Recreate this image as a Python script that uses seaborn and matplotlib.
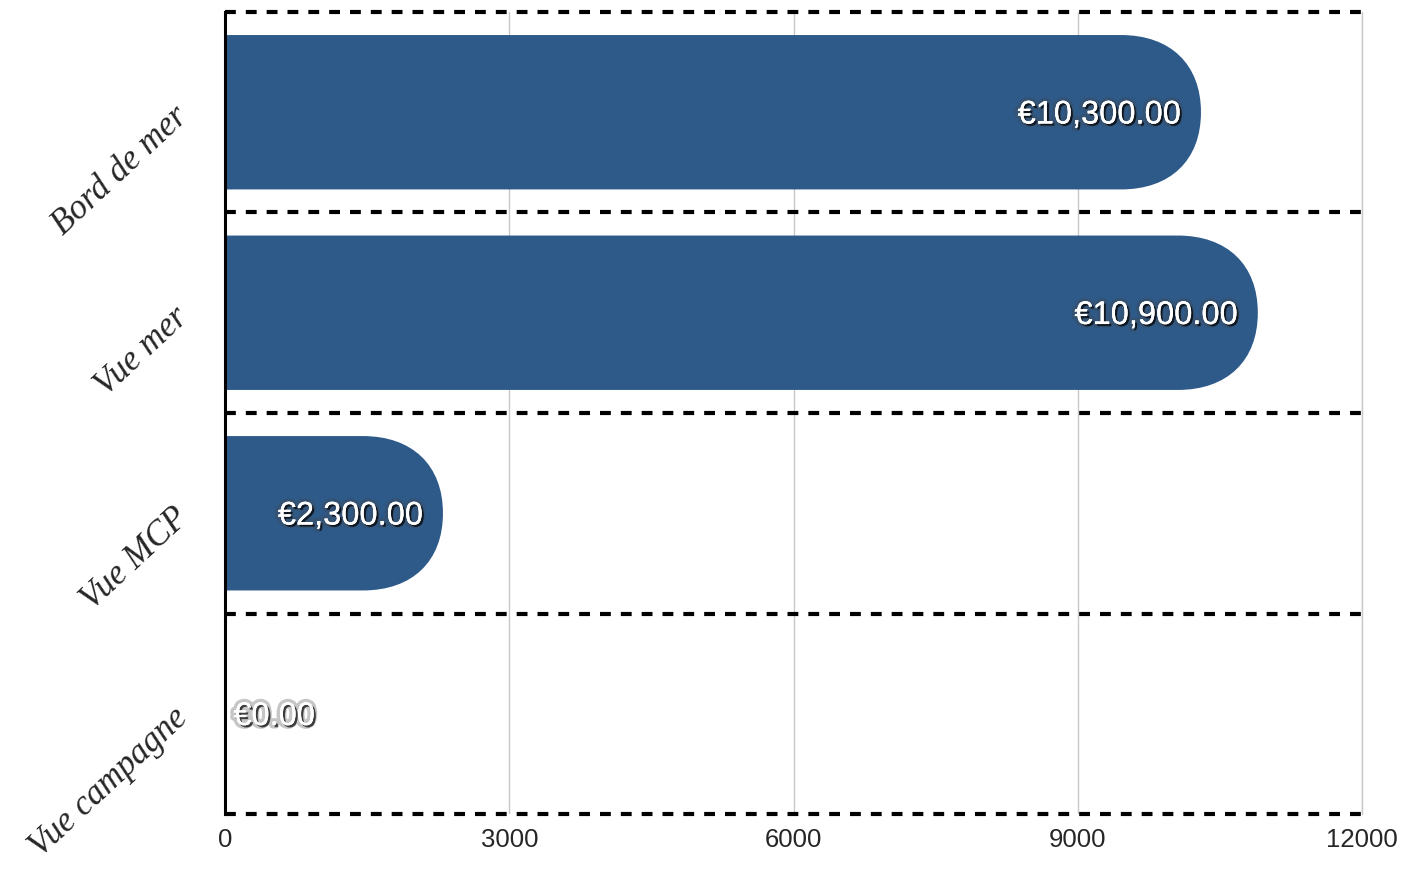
import pandas as pd
import matplotlib.pyplot as plt
import matplotlib.patheffects as pe
from matplotlib.path import Path
from matplotlib.patches import PathPatch
import seaborn as sns

categories = ["Bord de mer", "Vue mer", "Vue MCP", "Vue campagne"]
values = [10300, 10900, 2300, 0]
value_labels = ["€10,300.00", "€10,900.00", "€2,300.00", "€0.00"]
x_ticks = [0, 3000, 6000, 9000, 12000]

df = pd.DataFrame({"categorie": categories, "montant": values})

sns.set_style("white")
plt.rcParams['font.family'] = ['Liberation Sans', 'DejaVu Sans']

fig = plt.figure(figsize=(14.02, 8.74), dpi=100)
ax = fig.add_axes([0.1605, 0.0686, 0.811, 0.9177])

bar_color = "#2e5a8a"
sns.barplot(data=df, x="montant", y="categorie", orient="h", color=bar_color,
            width=0.77, saturation=1, ax=ax, zorder=2)

ax.set_xlim(0, 12000)
ax.set_ylim(3.5, -0.5)

# replace the plain rectangles by bars with a rounded right end
rx = 845
k = 0.62
for p in list(ax.patches):
    x0, y0 = p.get_x(), p.get_y()
    w, h = p.get_width(), p.get_height()
    p.remove()
    if w <= 0:
        continue
    y1 = y0 + h
    yc = y0 + h / 2
    ry = h / 2
    xe = x0 + w
    r = min(rx, w)
    verts = [(x0, y0), (xe - r, y0),
             (xe - r + k * r, y0), (xe, yc - k * ry), (xe, yc),
             (xe, yc + k * ry), (xe - r + k * r, y1), (xe - r, y1),
             (x0, y1), (x0, y0)]
    codes = [Path.MOVETO, Path.LINETO,
             Path.CURVE4, Path.CURVE4, Path.CURVE4,
             Path.CURVE4, Path.CURVE4, Path.CURVE4,
             Path.LINETO, Path.CLOSEPOLY]
    ax.add_patch(PathPatch(Path(verts, codes), facecolor=bar_color,
                           edgecolor="none", zorder=2))

# dashed separators between categories
for yb in [-0.5, 0.5, 1.5, 2.5, 3.5]:
    ax.axhline(yb, color="black", lw=3, ls=(0, (2.6, 2.4)), zorder=4,
               clip_on=False, dash_capstyle="butt")

ax.set_axisbelow(True)
ax.xaxis.grid(True, color="#c8c8c8", lw=1)
ax.yaxis.grid(False)
ax.axvline(12000, color="#c8c8c8", lw=1, zorder=0, clip_on=False)
for s in ["top", "right", "bottom"]:
    ax.spines[s].set_visible(False)
ax.spines["left"].set_color("black")
ax.spines["left"].set_linewidth(2.2)
ax.spines["left"].set_zorder(5)

ax.set_xticks(x_ticks)
ax.set_xticklabels([str(t) for t in x_ticks], fontsize=18.5)
ax.tick_params(axis="x", length=0, pad=10)
ax.tick_params(axis="y", length=0, pad=30)
ax.set_yticks(range(len(categories)))
ax.set_yticklabels(categories, rotation=43, ha="right", va="center",
                   rotation_mode="anchor", fontsize=25,
                   family="Liberation Serif", style="italic")
ax.set_xlabel("")
ax.set_ylabel("")

shadow = [pe.withStroke(linewidth=5, foreground="#444444", alpha=0.3),
          pe.withSimplePatchShadow(offset=(1.5, -1.5), shadow_rgbFace="black", alpha=0.7),
          pe.Normal()]
for i, (v, lab) in enumerate(zip(values, value_labels)):
    if v > 0:
        ax.annotate(lab, (v, i), xytext=(-14.5, -2), textcoords="offset points",
                    ha="right", va="center", color="white", fontsize=23.5,
                    path_effects=shadow, zorder=6)
    else:
        ax.annotate(lab, (v, i), xytext=(6, -2), textcoords="offset points",
                    ha="left", va="center", color="white", fontsize=23.5,
                    path_effects=shadow, zorder=6)

fig.savefig("out.png", dpi=100)
